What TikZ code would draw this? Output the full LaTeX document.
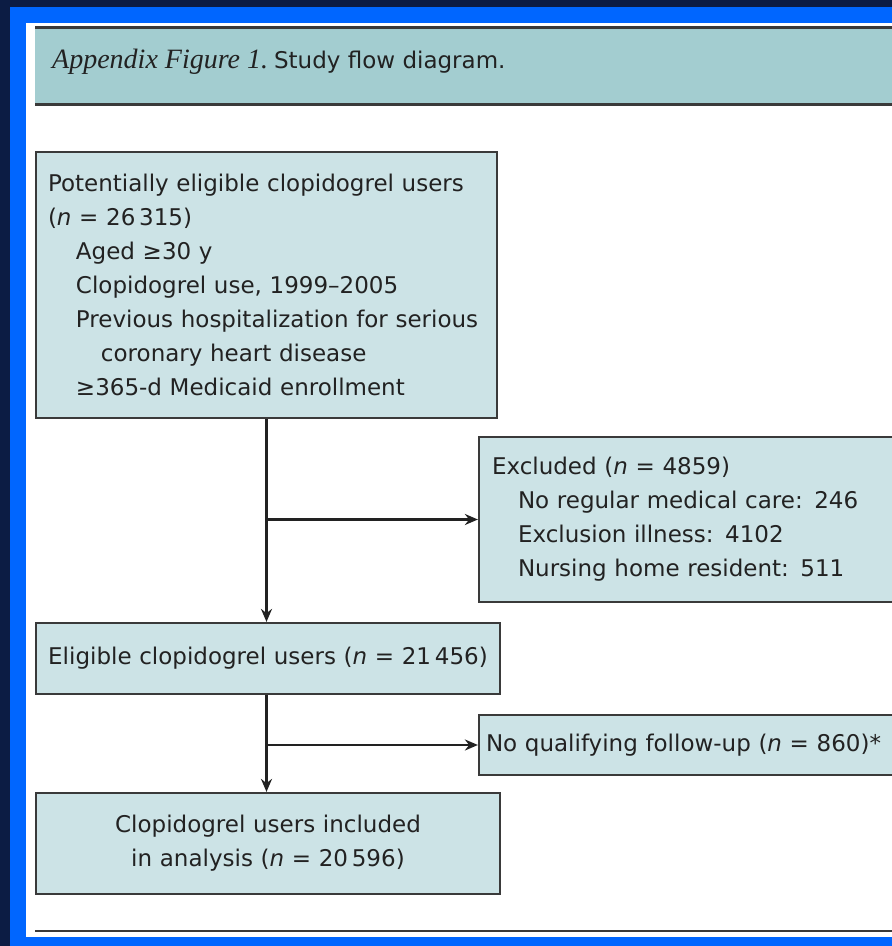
\documentclass[tikz,border=0pt]{standalone}
\usepackage{fontspec}
\setmainfont{DejaVu Sans}
\newfontfamily\titleserif{Liberation Serif}
\usetikzlibrary{arrows.meta}
\definecolor{navy}{HTML}{0C1C44}
\definecolor{frameblue}{HTML}{0066FF}
\definecolor{headfill}{HTML}{A3CDD0}
\definecolor{boxfill}{HTML}{CCE3E6}
\definecolor{rulegray}{HTML}{3A3A3A}
\definecolor{inkdark}{HTML}{222222}
\tikzset{
  flowbox/.style={draw=rulegray, line width=2.2pt, fill=boxfill, inner xsep=13pt, inner ysep=0pt,
    text=inkdark, font=\fontsize{23}{34}\selectfont},
  flowarrow/.style={draw=inkdark, line width=2.2pt, -{Stealth[length=13pt,width=11pt]}},
  flowline/.style={draw=inkdark, line width=2.2pt}
}
\begin{document}
\begin{tikzpicture}[x=1pt,y=-1pt]
\useasboundingbox (0,0) rectangle (892,946);
\fill[navy] (0,0) rectangle (892,946);
\fill[frameblue] (10,7) rectangle (900,950);
\fill[white] (26,23) rectangle (900,937);
% header band
\fill[headfill] (35,27) rectangle (900,105);
\draw[rulegray, line width=3pt] (35,27.5) -- (900,27.5);
\draw[rulegray, line width=3pt] (35,104.5) -- (900,104.5);
\node[anchor=base west, inner sep=0pt, text=inkdark] (title) at (52,68)
  {{\titleserif\itshape\fontsize{28}{30}\selectfont Appendix Figure 1.}\hspace{6pt}{\fontsize{23}{30}\selectfont Study flow diagram.}};
% bottom rule
\draw[rulegray, line width=2.5pt] (35,931) -- (900,931);
% boxes
\node[flowbox, minimum width=461pt, minimum height=266pt, text width=437pt, inner xsep=12pt, align=left] (b1) at (266.5,285)
  {Potentially eligible clopidogrel users\\
   (\textit{n} = 26\,315)\\
   \hspace*{28pt}Aged ≥30 y\\
   \hspace*{28pt}Clopidogrel use, 1999–2005\\
   \hspace*{28pt}Previous hospitalization for serious\\
   \hspace*{53pt}coronary heart disease\\
   \hspace*{28pt}≥365-d Medicaid enrollment};
\node[flowbox, minimum width=481pt, minimum height=165pt, text width=455pt, align=left] (b2) at (719.5,519.5)
  {Excluded (\textit{n} = 4859)\\
   \hspace*{26pt}No regular medical care: 246\\
   \hspace*{26pt}Exclusion illness: 4102\\
   \hspace*{26pt}Nursing home resident: 511};
\node[flowbox, minimum width=464pt, minimum height=71pt, text width=452pt, inner xsep=6pt, align=center] (b3) at (268,658.5)
  {Eligible clopidogrel users (\textit{n} = 21\,456)};
\node[flowbox, minimum width=481pt, minimum height=60pt, inner xsep=7pt, text width=467pt, align=left] (b4) at (719.5,745)
  {No qualifying follow-up (\textit{n} = 860)*};
\node[flowbox, minimum width=464pt, minimum height=101pt, text width=438pt, align=center] (b5) at (268,843.5)
  {Clopidogrel users included\\ in analysis (\textit{n} = 20\,596)};
% connectors
\coordinate (j1) at (b1.south |- b2.west);
\coordinate (j2) at (b1.south |- b4.west);
\draw[flowarrow] (b1.south) -- (b1.south |- b3.north);
\draw[flowarrow] (j1) -- (b2.west);
\draw[flowarrow] (b1.south |- b3.south) -- (b1.south |- b5.north);
\draw[flowarrow] (j2) -- (b4.west);
\end{tikzpicture}
\end{document}
